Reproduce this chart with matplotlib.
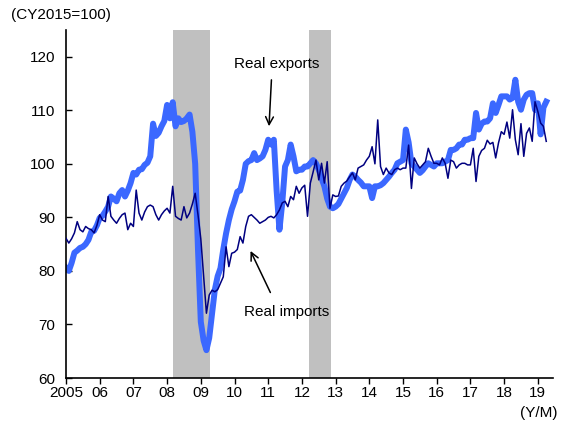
import matplotlib
matplotlib.use("Agg")
import matplotlib.pyplot as plt
import numpy as np

plt.rcParams['font.family'] = ['Liberation Sans', 'DejaVu Sans']

start_year = 2005
# Monthly indices (CY2015=100), Jan 2005 - Apr 2019
real_exports = [
    # 2005
    80.6, 80.0, 81.5, 83.4, 83.8, 84.3, 84.5, 85.0, 85.8, 87.3, 87.5, 88.5,
    # 2006
    89.9, 90.3, 91.1, 92.0, 93.9, 93.5, 93.0, 94.5, 95.1, 93.9, 95.0, 96.4,
    # 2007
    98.3, 98.0, 98.9, 99.0, 99.8, 100.2, 101.4, 107.5, 105.2, 105.8, 107.0, 108.0,
    # 2008
    111.0, 108.5, 111.5, 107.0, 108.5, 107.8, 108.0, 108.5, 109.2, 106.0, 100.0, 84.0,
    # 2009
    70.5, 67.0, 65.2, 67.5, 72.0, 76.5, 79.0, 80.5, 84.0, 87.0, 89.5, 91.5,
    # 2010
    93.0, 94.8, 95.0, 97.0, 100.0, 100.5, 100.7, 102.0, 100.7, 101.0, 101.4, 102.6,
    # 2011
    104.5, 103.6, 104.5, 95.0, 87.7, 92.7, 99.5, 100.7, 103.6, 101.4, 98.6, 98.9,
    # 2012
    98.9, 99.5, 99.5, 100.1, 100.7, 100.1, 98.9, 97.3, 95.8, 93.5, 92.0, 91.7,
    # 2013
    92.0, 92.5, 93.5, 94.5, 95.5, 97.0, 98.0, 97.6, 97.0, 96.5, 95.8, 95.8,
    # 2014
    95.8, 93.6, 95.8, 95.8, 96.0, 96.4, 97.0, 97.6, 98.3, 98.9, 100.1, 100.4,
    # 2015
    100.7, 106.4, 104.0, 100.1, 99.5, 98.9, 98.3, 98.8, 99.5, 100.1, 99.8, 99.5,
    # 2016
    100.1, 100.1, 100.1, 100.4, 100.7, 102.6, 102.6, 102.9, 103.6, 103.6, 104.5, 104.5,
    # 2017
    104.8, 104.8, 109.5, 106.4, 107.5, 107.9, 107.9, 108.5, 111.3, 109.5, 111.0, 112.6,
    # 2018
    112.6, 112.6, 112.0, 112.3, 115.7, 111.6, 110.1, 112.0, 112.9, 113.2, 113.2, 110.1,
    # 2019
    111.3, 105.5, 110.5, 111.6,
]
real_imports = [
    # 2005
    86.1, 85.2, 86.0, 87.1, 89.2, 87.7, 87.3, 88.3, 87.9, 87.7, 87.1, 88.5,
    # 2006
    90.5, 89.5, 89.2, 93.9, 90.2, 89.5, 88.9, 89.8, 90.5, 90.8, 87.7, 88.9,
    # 2007
    88.3, 95.1, 90.8, 89.5, 91.0, 92.0, 92.3, 92.0, 90.5, 89.5, 90.5, 91.2,
    # 2008
    91.7, 90.8, 95.8, 90.2, 89.8, 89.5, 92.0, 89.9, 90.8, 92.5, 94.5, 90.5,
    # 2009
    86.0, 79.0, 72.1, 75.5, 76.4, 76.1, 76.5, 77.7, 78.9, 84.5, 80.8, 83.3,
    # 2010
    83.5, 84.0, 86.4, 85.2, 88.3, 90.2, 90.5, 90.0, 89.5, 88.9, 89.2, 89.5,
    # 2011
    90.0, 90.2, 89.9, 90.5, 91.4, 92.7, 93.0, 92.0, 93.9, 93.3, 95.8, 94.5,
    # 2012
    95.5, 96.0, 90.2, 96.4, 98.5, 100.7, 97.0, 100.1, 96.4, 100.4, 91.7, 94.2,
    # 2013
    93.9, 94.0, 95.8, 96.4, 96.8, 97.6, 98.3, 97.0, 99.2, 99.5, 99.8, 100.7,
    # 2014
    101.4, 103.2, 100.0, 108.2, 99.5, 98.0, 99.2, 98.3, 98.0, 98.9, 99.2, 98.9,
    # 2015
    99.2, 99.2, 103.5, 95.4, 101.1, 100.0, 99.2, 99.8, 100.4, 102.9, 101.4, 100.1,
    # 2016
    100.1, 99.8, 101.1, 100.1, 97.3, 100.7, 100.4, 99.2, 99.8, 100.1, 100.1, 99.8,
    # 2017
    99.8, 102.9, 96.7, 101.4, 102.5, 102.9, 104.4, 103.7, 104.0, 101.1, 103.9, 106.0,
    # 2018
    105.5, 107.8, 104.8, 110.1, 104.5, 101.7, 107.5, 101.4, 105.7, 106.7, 104.2, 111.6,
    # 2019
    109.8, 107.6, 107.0, 104.2,
]
recessions = [(2008.17, 2009.28), (2012.22, 2012.87)]
year_ticks = list(range(2005, 2020))
year_labels = ['2005'] + ['%02d' % (y % 100) for y in range(2006, 2020)]
y_ticks = [60, 70, 80, 90, 100, 110, 120]

x = start_year + np.arange(len(real_exports)) / 12.0

fig = plt.figure(figsize=(5.66, 4.28), dpi=100)
ax = fig.add_axes([0.1166, 0.1168, 0.8604, 0.8132])

for a, b in recessions:
    ax.axvspan(a, b, color='#c0c0c0', lw=0, zorder=0)

ax.plot(x, real_exports, color='#3b68ff', lw=4.3, zorder=2, solid_joinstyle='round')
ax.plot(x, real_imports, color='#000080', lw=1.1, zorder=3)

ax.set_xlim(2005, 2019.45)
ax.set_ylim(60, 125)
ax.set_xticks(year_ticks)
ax.set_xticklabels(year_labels)
ax.set_yticks(y_ticks)

for s in ['top', 'right']:
    ax.spines[s].set_visible(False)
for s in ['left', 'bottom']:
    ax.spines[s].set_linewidth(1.2)
ax.tick_params(axis='x', direction='out', length=4, width=1.0, labelsize=11, pad=2)
ax.tick_params(axis='y', direction='in', length=4, width=1.0, labelsize=11, pad=8)

fig.text(0.02, 0.965, '(CY2015=100)', fontsize=11, ha='left', va='center')
fig.text(0.985, 0.035, '(Y/M)', fontsize=11, ha='right', va='center')

ax.annotate('', xy=(2011.02, 106.5), xytext=(2011.1, 116.2),
            arrowprops=dict(arrowstyle='->', color='black', lw=1.1, mutation_scale=14))
ax.text(2011.25, 118.6, 'Real exports', fontsize=11, ha='center', va='center')
ax.annotate('', xy=(2010.44, 84.2), xytext=(2011.1, 75.5),
            arrowprops=dict(arrowstyle='->', color='black', lw=1.1, mutation_scale=14))
ax.text(2011.55, 72.3, 'Real imports', fontsize=11, ha='center', va='center')

fig.savefig('out.png', dpi=100)
